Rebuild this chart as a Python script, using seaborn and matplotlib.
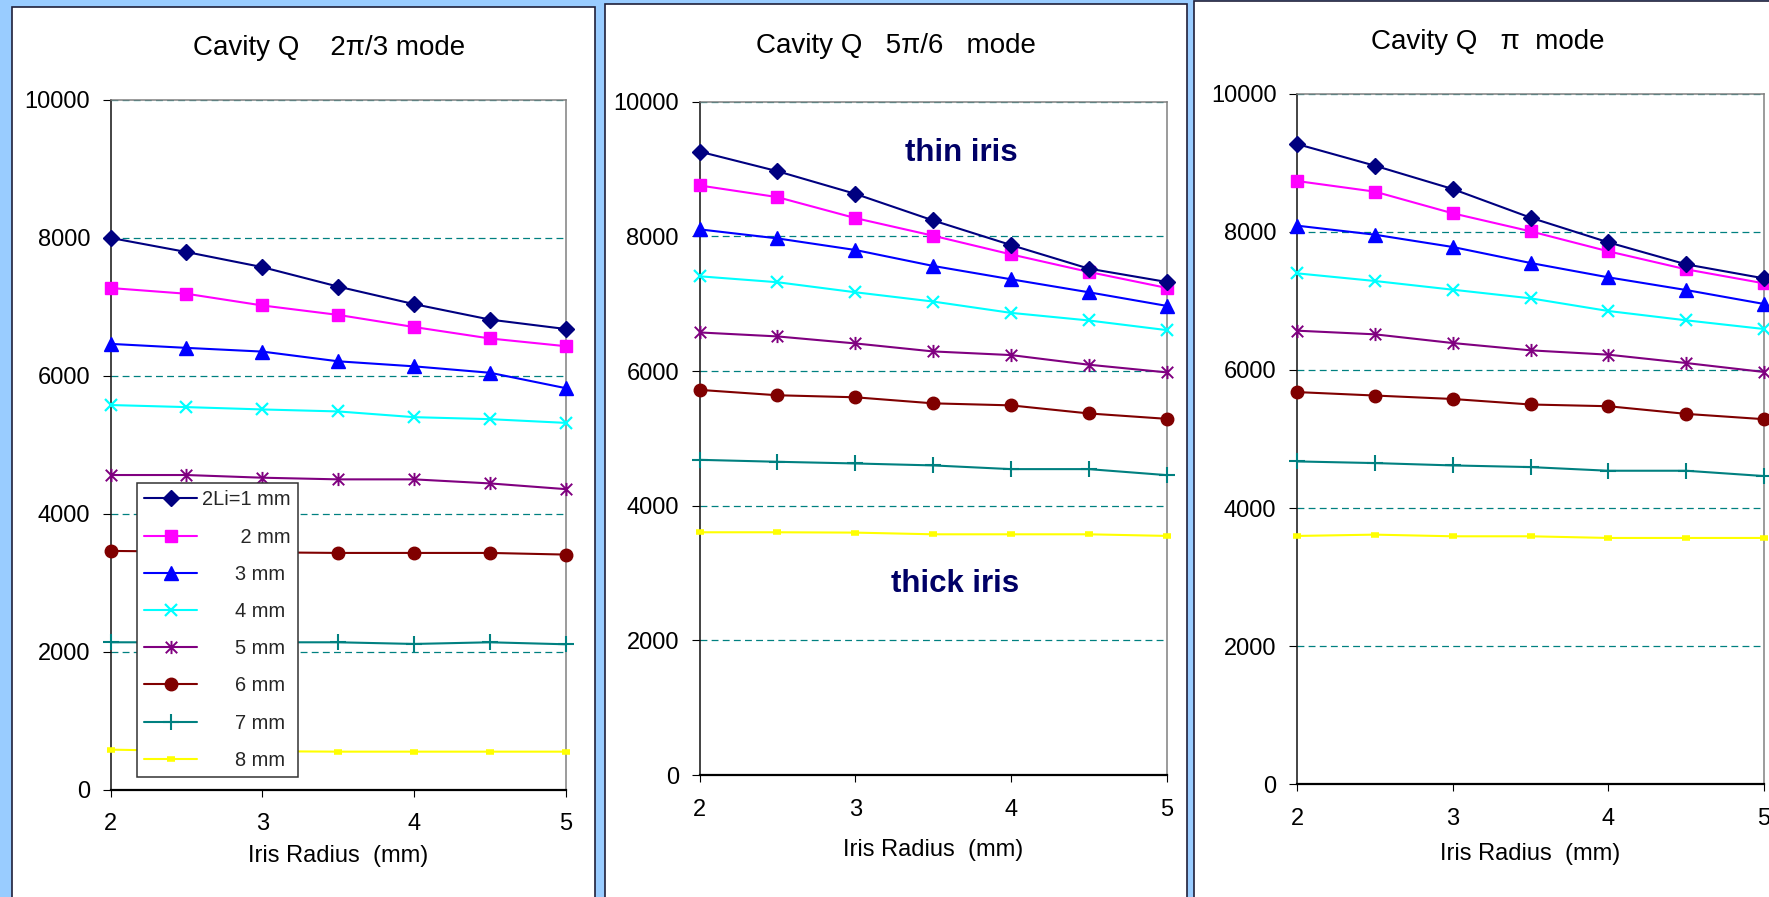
import matplotlib
matplotlib.use("Agg")
import matplotlib.pyplot as plt
from matplotlib.path import Path
from matplotlib.patches import Rectangle
from matplotlib.lines import Line2D
import seaborn as sns

# ---------------- data ----------------
radius = [2.0, 2.5, 3.0, 3.5, 4.0, 4.5, 5.0]          # iris radius (mm)
thickness = ["1", "2", "3", "4", "5", "6", "7", "8"]  # 2Li (mm)

q_2pi3 = [
    [8000, 7795, 7576, 7293, 7039, 6815, 6678],
    [7273, 7190, 7020, 6883, 6707, 6541, 6429],
    [6463, 6405, 6351, 6210, 6137, 6044, 5820],
    [5576, 5546, 5512, 5483, 5400, 5371, 5317],
    [4561, 4561, 4522, 4498, 4498, 4439, 4356],
    [3460, 3450, 3440, 3431, 3431, 3431, 3407],
    [2135, 2135, 2135, 2135, 2111, 2135, 2106],
    [578, 560, 555, 549, 549, 549, 549],
]
q_5pi6 = [
    [9259, 8968, 8632, 8237, 7872, 7521, 7323],
    [8756, 8583, 8272, 8010, 7733, 7472, 7235],
    [8104, 7970, 7798, 7561, 7363, 7170, 6968],
    [7407, 7319, 7170, 7032, 6864, 6751, 6608],
    [6573, 6514, 6410, 6291, 6237, 6094, 5980],
    [5720, 5640, 5610, 5520, 5490, 5370, 5290],
    [4681, 4652, 4627, 4598, 4543, 4543, 4454],
    [3605, 3605, 3600, 3575, 3575, 3575, 3551],
]
q_pi = [
    [9275, 8961, 8623, 8208, 7850, 7531, 7328],
    [8739, 8585, 8271, 8010, 7720, 7459, 7256],
    [8092, 7961, 7783, 7551, 7343, 7159, 6957],
    [7401, 7290, 7164, 7039, 6855, 6720, 6594],
    [6570, 6517, 6391, 6285, 6222, 6101, 5971],
    [5680, 5630, 5580, 5500, 5475, 5364, 5287],
    [4675, 4651, 4617, 4593, 4540, 4540, 4463],
    [3595, 3614, 3590, 3590, 3566, 3566, 3566],
]

titles = ["Cavity Q    2\u03c0/3 mode", "Cavity Q   5\u03c0/6   mode", "Cavity Q   \u03c0  mode"]
legend_labels = ["2Li=1 mm", "       2 mm", "      3 mm", "      4 mm",
                 "      5 mm", "      6 mm", "      7 mm", "      8 mm"]
y_ticks = [0, 2000, 4000, 6000, 8000, 10000]
x_ticks = [2, 3, 4, 5]

# ---------------- styling ----------------
sns.set_theme(style="white")
plt.rcParams["font.family"] = ["Liberation Sans", "DejaVu Sans"]

asterisk = Path([(-1, -1), (1, 1), (-1, 1), (1, -1), (0, -1.15), (0, 1.15)],
                [Path.MOVETO, Path.LINETO, Path.MOVETO, Path.LINETO, Path.MOVETO, Path.LINETO])

series_style = [
    dict(color="#000080", marker="D", markersize=8.5, mew=1.0),
    dict(color="#FF00FF", marker="s", markersize=8.2, mew=1.0),
    dict(color="#0000FF", marker="^", markersize=10, mew=1.0),
    dict(color="#00FFFF", marker="x", markersize=8.5, mew=1.6),
    dict(color="#800080", marker=asterisk, markersize=9.5, mew=1.4),
    dict(color="#800000", marker="o", markersize=9, mew=1.0),
    dict(color="#008080", marker="+", markersize=11, mew=1.5),
    dict(color="#FFFF00", marker="_", markersize=6, mew=4),
]

W, H = 1769, 897
fig = plt.figure(figsize=(W / 100, H / 100), dpi=100)
fig.patch.set_facecolor("#99CCFF")


def px_rect(l, t, r, b):
    return [l / W, 1 - b / H, (r - l) / W, (b - t) / H]


# white slide panels
for (l, t, r, b) in [(12, 7, 595, 905), (605, 4, 1187, 905), (1194, 1, 1775, 905)]:
    fig.patches.append(Rectangle((l / W, 1 - b / H), (r - l) / W, (b - t) / H,
                                 transform=fig.transFigure, facecolor="white",
                                 edgecolor="#20203a", linewidth=1.2, zorder=0))

axes_px = [(110.6, 100, 566, 789.5), (699.5, 101.7, 1166.5, 775), (1297, 94, 1764, 784)]
title_pos = [(329, 48), (896, 46), (1488, 42)]
datasets = [q_2pi3, q_5pi6, q_pi]

for k, (box, data) in enumerate(zip(axes_px, datasets)):
    ax = fig.add_axes(px_rect(*box))
    ax.set_zorder(2)
    ax.set_facecolor("white")
    height_px = box[3] - box[1]

    for s, (vals, st) in enumerate(zip(data, series_style)):
        sns.lineplot(x=radius, y=vals, ax=ax, color=st["color"], marker=st["marker"],
                     markersize=st["markersize"], markeredgecolor=st["color"],
                     markerfacecolor=st["color"], markeredgewidth=st["mew"],
                     linewidth=1.5, clip_on=False, errorbar=None, sort=False,
                     legend=False, zorder=3 + (8 - s) * 0.01)

    ax.set_xlim(2, 5)
    ax.set_ylim(0, 10000)
    ax.set_xticks(x_ticks)
    ax.set_xticklabels([str(v) for v in x_ticks])
    ax.set_yticks(y_ticks)
    ax.set_yticklabels([str(v) for v in y_ticks])
    ax.tick_params(axis="both", labelsize=17, colors="black", direction="out")
    ax.tick_params(axis="y", left=True, length=5.8, width=0.8, pad=9)
    ax.tick_params(axis="x", bottom=True, length=5, width=0.8, pad=12)

    ax.yaxis.grid(True, color="#008080", linewidth=0.9, linestyle=(0, (5.5, 3.4)))
    ax.xaxis.grid(False)
    ax.set_axisbelow(True)

    for side in ["top", "right"]:
        ax.spines[side].set_color("#808080")
        ax.spines[side].set_linewidth(1.1)
    ax.spines["left"].set_color("#111111")
    ax.spines["left"].set_linewidth(1.1)
    ax.spines["bottom"].set_color("#000000")
    ax.spines["bottom"].set_linewidth(1.6)

    ax.set_xlabel("Iris Radius  (mm)", fontsize=17, color="black")
    ax.set_ylabel("")
    xl_off = [66.5, 75, 70][k]
    ax.xaxis.set_label_coords(0.5, -xl_off / height_px)
    ax.xaxis.label.set_va("center")

    fig.text(title_pos[k][0] / W, 1 - title_pos[k][1] / H, titles[k],
             fontsize=20, ha="center", va="center", color="black")

    if k == 0:
        handles = [Line2D([], [], color=st["color"], marker=st["marker"],
                          markersize=st["markersize"], markeredgecolor=st["color"],
                          markerfacecolor=st["color"], markeredgewidth=st["mew"],
                          linewidth=1.5) for st in series_style]
        leg = ax.legend(handles, legend_labels, loc="upper left",
                        bbox_to_anchor=(0.058, 0.4445), borderaxespad=0,
                        fontsize=14.4, frameon=True, fancybox=False, framealpha=1,
                        edgecolor="#333333", labelspacing=0.91, borderpad=0.37,
                        handlelength=2.65, handletextpad=0.25, numpoints=1)
        leg.get_frame().set_linewidth(1.1)
        leg.set_zorder(10)
    if k == 1:
        ax.text(3.68, 9238, "thin iris", fontsize=22.5, fontweight="bold",
                color="#000066", ha="center", va="center")
        ax.text(3.64, 2837, "thick iris", fontsize=22.5, fontweight="bold",
                color="#000066", ha="center", va="center")

fig.savefig("out.png", dpi=100, facecolor=fig.get_facecolor())
